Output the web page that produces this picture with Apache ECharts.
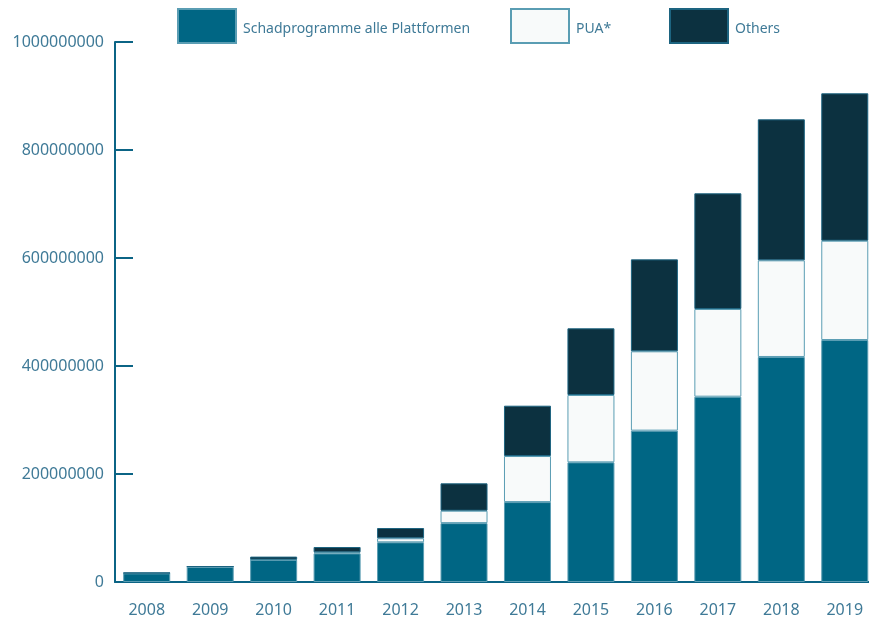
<!DOCTYPE html>
<html>
<head>
<meta charset="utf-8">
<script src="https://cdn.jsdelivr.net/npm/echarts@6/dist/echarts.min.js"></script>
<style>
html,body{margin:0;padding:0;background:#fff;}
#chart{width:869px;height:626px;}
</style>
</head>
<body>
<div id="chart"></div>
<script>
var years = ['2008','2009','2010','2011','2012','2013','2014','2015','2016','2017','2018','2019'];
var schadprogramme = [16000000, 28000000, 41000000, 53000000, 73500000, 109000000, 148000000, 221600000, 280300000, 343200000, 416700000, 448100000];
var pua = [300000, 300000, 500000, 2000000, 7500000, 23000000, 85300000, 124700000, 146900000, 162400000, 179000000, 183900000];
var others = [900000, 700000, 5500000, 9800000, 19000000, 50700000, 93200000, 123500000, 170300000, 214200000, 261100000, 273000000];
var yTicks = [0, 200000000, 400000000, 600000000, 800000000, 1000000000];

var AX = '#0b6485';
var LBL = '#3f7a97';
var FONT = 'Noto Sans';
var BORDER = '#5a9db3';

function legendAt(left, name) {
  return {
    left: left, top: 3, itemWidth: 58, itemHeight: 34, itemGap: 0,
    icon: 'rect',
    data: [name], selectedMode: false,
    formatter: '{t|{name}}',
    textStyle: {
      color: LBL, fontFamily: FONT, fontSize: 14,
      rich: {t: {color: LBL, fontFamily: FONT, fontSize: 14, padding: [6, 0, 0, 2]}}
    }
  };
}

var chart = echarts.init(document.getElementById('chart'), null, {renderer: 'canvas'});
chart.setOption({
  animation: false,
  backgroundColor: '#ffffff',
  legend: [
    legendAt(172, 'Schadprogramme alle Plattformen'),
    legendAt(505, 'PUA*'),
    legendAt(664, 'Others')
  ],
  grid: {left: 115, top: 42, width: 761.5, height: 540, containLabel: false, outerBoundsMode: 'none'},
  xAxis: {
    type: 'category',
    data: years,
    boundaryGap: true,
    axisLine: {lineStyle: {color: AX, width: 2}},
    axisTick: {inside: true, length: 13, interval: 0, lineStyle: {color: AX, width: 2}},
    axisLabel: {color: LBL, fontFamily: FONT, fontSize: 16, margin: 20, interval: 0}
  },
  yAxis: {
    type: 'value',
    min: 0, max: 1000000000, interval: 200000000,
    axisLine: {show: true, lineStyle: {color: AX, width: 2}},
    axisTick: {show: true, inside: true, length: 18, lineStyle: {color: AX, width: 2}},
    splitLine: {show: false},
    axisLabel: {
      color: LBL, fontFamily: FONT, fontSize: 16, margin: 11,
      formatter: function (v) { return yTicks.indexOf(v) >= 0 ? String(v) : ''; }
    }
  },
  series: [
    {name: 'Schadprogramme alle Plattformen', type: 'bar', stack: 'a', barWidth: 47, data: schadprogramme,
     itemStyle: {color: '#006684', borderColor: BORDER, borderWidth: 1}},
    {name: 'PUA*', type: 'bar', stack: 'a', barWidth: 47, data: pua,
     itemStyle: {color: '#f8fafa', borderColor: BORDER, borderWidth: 1}},
    {name: 'Others', type: 'bar', stack: 'a', barWidth: 47, data: others,
     itemStyle: {color: '#0c3140', borderColor: '#1d6480', borderWidth: 1}}
  ]
});
</script>
</body>
</html>
